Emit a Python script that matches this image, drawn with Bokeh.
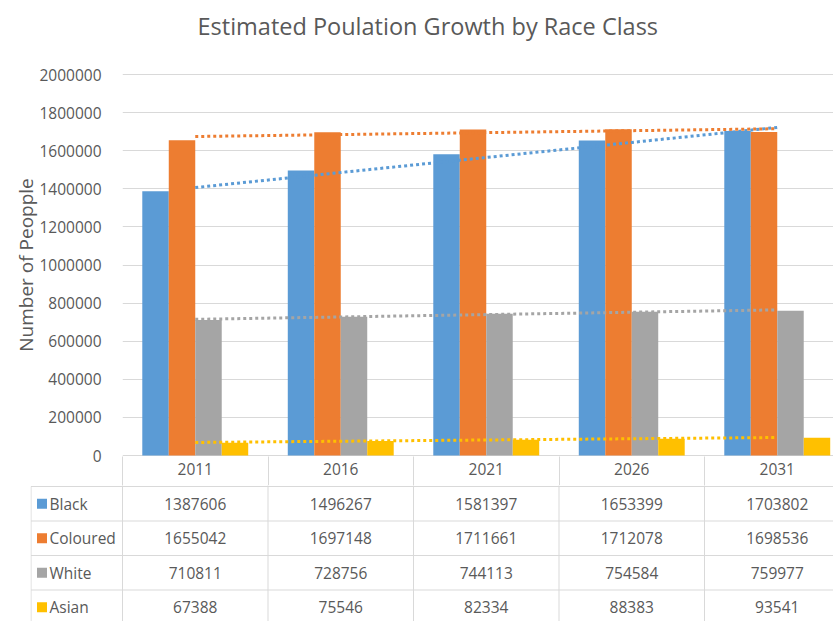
import numpy as np
from bokeh.plotting import figure
from bokeh.layouts import column
from bokeh.models import Range1d, FixedTicker, NumeralTickFormatter, Title
from bokeh.core.properties import value
from bokeh.embed import file_html
from bokeh.resources import INLINE

# ---------------- data ----------------
years = ["2011", "2016", "2021", "2026", "2031"]
series_names = ["Black", "Coloured", "White", "Asian"]
black = [1387606, 1496267, 1581397, 1653399, 1703802]
coloured = [1655042, 1697148, 1711661, 1712078, 1698536]
white = [710811, 728756, 744113, 754584, 759977]
asian = [67388, 75546, 82334, 88383, 93541]
y_ticks = [0, 200000, 400000, 600000, 800000, 1000000, 1200000,
           1400000, 1600000, 1800000, 2000000]

series = [black, coloured, white, asian]
colors = ["#5B9BD5", "#ED7D31", "#A5A5A5", "#FFC000"]

FONT = "Open Sans"
TXT = "#595959"
GRID = "#D9D9D9"
FS = "15.5px"

# ---------------- layout constants (page pixels) ----------------
W, H = 833, 621
SCALE = 145.5            # px per category
FRAME_L = 122
FRAME_T = 73
ZERO_Y = 455             # page y of value 0
FRAME_B = 456            # chart frame bottom
HEADER_BOTTOM = 486
SPLIT = 485              # page y where the table figure starts
PX_PER_UNIT = 381 / 2000000.0


def xd(px):
    return -0.5 + (px - FRAME_L) / SCALE


def yd(py):
    return (ZERO_Y - py) / PX_PER_UNIT


idx = np.arange(len(years))
vx = [i - 0.5 for i in range(len(years))]

# ---------------- chart ----------------
p = figure(width=W, height=SPLIT, output_backend="svg", toolbar_location=None,
           x_range=Range1d(xd(FRAME_L), xd(W)), y_range=Range1d(yd(FRAME_B), yd(FRAME_T)),
           min_border_left=FRAME_L, min_border_right=0, min_border_top=FRAME_T,
           min_border_bottom=SPLIT - FRAME_B)
p.outline_line_color = None
p.xgrid.visible = False
p.ygrid.ticker = FixedTicker(ticks=y_ticks)
p.ygrid.grid_line_color = GRID

# x axis = header row of the data table
tick_len = HEADER_BOTTOM - FRAME_B + 1
p.xaxis.ticker = FixedTicker(ticks=list(idx), minor_ticks=vx)
p.xaxis.major_label_overrides = {int(i): y for i, y in zip(idx, years)}
p.xaxis.axis_line_color = None
p.xaxis.major_tick_line_color = None
p.xaxis.major_tick_out = 0
p.xaxis.major_tick_in = 0
p.xaxis.minor_tick_line_color = GRID
p.xaxis.minor_tick_in = 0
p.xaxis.minor_tick_out = tick_len
p.xaxis.major_label_standoff = 6 - tick_len
p.xaxis.major_label_text_font = FONT
p.xaxis.major_label_text_font_size = FS
p.xaxis.major_label_text_color = TXT

p.yaxis.ticker = FixedTicker(ticks=y_ticks)
p.yaxis.formatter = NumeralTickFormatter(format="0")
p.yaxis.axis_line_color = None
p.yaxis.major_tick_line_color = None
p.yaxis.minor_tick_line_color = None
p.yaxis.major_label_text_font = FONT
p.yaxis.major_label_text_font_size = FS
p.yaxis.major_label_text_color = TXT
p.yaxis.major_label_standoff = 15
p.yaxis.axis_label = "Number of Peopple"
p.yaxis.axis_label_text_font = FONT
p.yaxis.axis_label_text_font_size = "19px"
p.yaxis.axis_label_text_font_style = "normal"
p.yaxis.axis_label_text_color = TXT
p.yaxis.axis_label_standoff = -3

# title: a spacer next to the frame, then the real title further out
p.title.text = ""
p.add_layout(Title(text=" ", text_font_size="2px", standoff=28), "above")
p.add_layout(Title(text="Estimated Poulation Growth by Race Class", text_font=FONT,
                   text_font_size="23.5px", text_font_style="normal", text_color=TXT,
                   align="left", offset=75, standoff=0), "above")

bw = 0.182
for k, (vals, col) in enumerate(zip(series, colors)):
    off = (k - 1.5) * bw
    p.vbar(x=idx + off, top=vals, width=bw, bottom=0, fill_color=col, line_color=None)

for vals, col in zip(series, colors):
    m, b = np.polyfit(idx, vals, 1)
    p.line(x=idx, y=m * idx + b, line_color=col, line_width=3, line_dash="3 3")

# ---------------- data table ----------------
TL = 30
t = figure(width=W, height=H - SPLIT, output_backend="svg", toolbar_location=None,
           x_range=Range1d(xd(TL), xd(W)), y_range=Range1d(H, SPLIT),
           min_border_left=TL, min_border_right=0, min_border_top=0,
           min_border_bottom=0)
t.outline_line_color = None
t.xaxis.visible = False
t.yaxis.visible = False
t.grid.visible = False

for fig in (p, t):
    try:
        fig.frame_align = False
    except Exception:
        pass

ROW_H = 34.5
row_tops = [HEADER_BOTTOM + ROW_H * i for i in range(len(series))]
x_end = xd(W) + 0.1
left_edge = xd(TL + 0.5)

t.segment(x0=[left_edge] * len(row_tops), x1=[x_end] * len(row_tops),
          y0=row_tops, y1=row_tops, line_color=GRID, line_width=1)
t.segment(x0=vx, x1=vx, y0=[SPLIT - 2] * len(vx), y1=[H + 5] * len(vx),
          line_color=GRID, line_width=1)
t.segment(x0=[left_edge], x1=[left_edge], y0=[HEADER_BOTTOM], y1=[H + 5],
          line_color=GRID, line_width=1)

for k, (name, vals, col) in enumerate(zip(series_names, series, colors)):
    yc = row_tops[k] + ROW_H / 2
    t.text(x=idx, y=[yc] * len(vals), text=[str(v) for v in vals], text_align="center",
           text_baseline="middle", text_font=value(FONT), text_font_size=FS,
           text_color=TXT)
    t.scatter(x=[xd(41.5)], y=[yc], marker="square", size=10, fill_color=col,
              line_color=None)
    t.text(x=[xd(49)], y=[yc], text=[name], text_align="left", text_baseline="middle",
           text_font=value(FONT), text_font_size=FS, text_color=TXT)

layout = column(p, t, spacing=0)
open("out.html", "w").write(file_html(layout, INLINE))
